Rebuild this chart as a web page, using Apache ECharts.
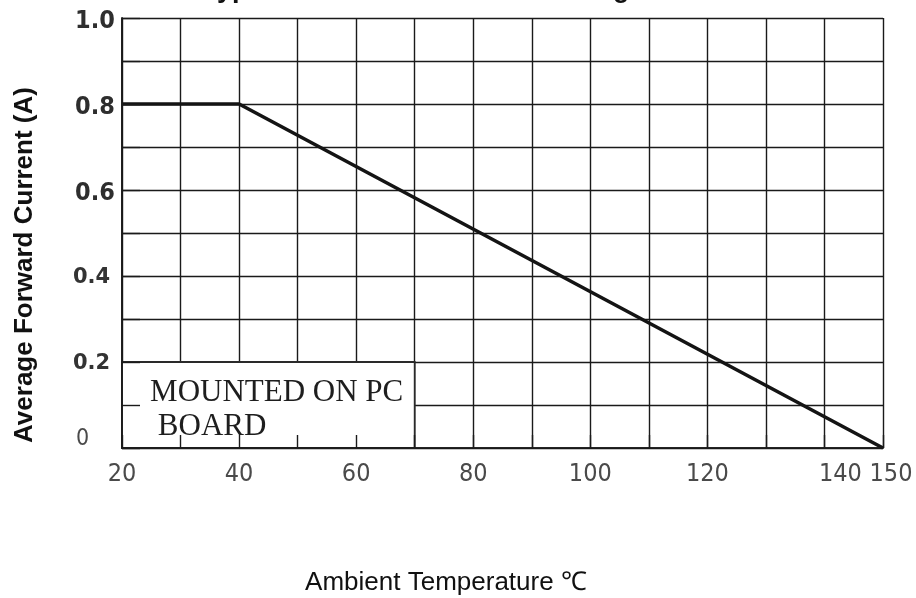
<!DOCTYPE html>
<html>
<head>
<meta charset="utf-8">
<script src="https://cdn.jsdelivr.net/npm/echarts@6/dist/echarts.min.js"></script>
<style>
html,body{margin:0;padding:0;background:#fff;}
#chart{width:916px;height:598px;}
</style>
</head>
<body>
<div id="chart"></div>
<script>
// ---- data ----
var temps = [20, 40, 150];          // Ambient temperature (°C)
var current = [0.8, 0.8, 0];        // Average forward current (A)
var xTickLabels = [20, 40, 60, 80, 100, 120, 140, 150];
var yTickLabels = ['0', '0.2', '0.4', '0.6', '0.8', '1.0'];
var noteX = [20, 70];               // note box extent (temperature)
var noteY = [0, 0.2];               // note box extent (current)
var noteText = 'MOUNTED ON PC\n BOARD';
var titleText = 'Typical Forward Current Derating Curve';
var xName = 'Ambient Temperature \u2103';
var yName = 'Average Forward Current (A)';

var chart = echarts.init(document.getElementById('chart'), null, {renderer: 'canvas'});

var lineData = temps.map(function (t, i) { return [t, current[i]]; });

function xFmt(v) {
  if (xTickLabels.indexOf(v) < 0) return '';
  if (v === 140) return '{s140|' + v + '}';
  if (v === 150) return '{s150|' + v + '}';
  return '{n|' + v + '}';
}
function yFmt(v) {
  var s = (Math.round(v * 10) / 10).toFixed(1);
  if (Math.round(v * 10) === 0) s = '0';
  if (yTickLabels.indexOf(s) < 0) return '';
  if (s === '0') return '{z|0}';
  if (s === '1.0' || s === '0.8' || s === '0.6') return '{b|' + s + '}';
  return '{m|' + s + '}';
}

var gridLine = {show: true, lineStyle: {color: '#1a1a1a', width: 1.4}};

var option = {
  backgroundColor: '#fff',
  animation: false,
  title: {
    text: titleText,
    left: 'center',
    top: -29,
    textStyle: {fontFamily: 'Liberation Sans', fontWeight: 'bold', fontSize: 27, color: '#111'}
  },
  grid: {left: 122, right: 33, top: 18, bottom: 150, containLabel: false},
  xAxis: [{
    type: 'value', min: 20, max: 150, interval: 10,
    axisLine: {show: true, lineStyle: {color: '#1a1a1a', width: 1.6}},
    axisTick: {show: false},
    splitLine: gridLine,
    axisLabel: {
      show: true, margin: 14, formatter: xFmt,
      rich: {
        n: {fontFamily: 'DejaVu Sans Condensed', fontSize: 25, color: '#4a4a4a'},
        s140: {fontFamily: 'DejaVu Sans Condensed', fontSize: 25, color: '#4a4a4a', padding: [0, 0, 0, 32]},
        s150: {fontFamily: 'DejaVu Sans Condensed', fontSize: 25, color: '#4a4a4a', padding: [0, 0, 0, 16]}
      }
    },
    z: 0
  }, {
    type: 'value', min: 20, max: 150, interval: 10, position: 'bottom', offset: 0,
    axisLine: {show: true, lineStyle: {color: '#1a1a1a', width: 1.6}},
    axisTick: {show: true, inside: true, length: 13, lineStyle: {color: '#1a1a1a', width: 1.4}},
    splitLine: {show: false},
    axisLabel: {show: false},
    z: 5
  }],
  yAxis: [{
    type: 'value', min: 0, max: 1, interval: 0.1,
    axisLine: {show: true, lineStyle: {color: '#1a1a1a', width: 1.6}},
    axisTick: {show: false},
    splitLine: gridLine,
    axisLabel: {
      show: true, margin: 49, align: 'left', formatter: yFmt,
      rich: {
        b: {fontFamily: 'DejaVu Sans Condensed', fontWeight: 'bold', fontSize: 25, color: '#2e2e2e', padding: [6, 0, 0, 2]},
        m: {fontFamily: 'DejaVu Sans', fontWeight: 'bold', fontSize: 21, color: '#333', padding: [3, 0, 0, 0]},
        z: {fontFamily: 'DejaVu Sans Condensed', fontSize: 23, color: '#4a4a4a', padding: [0, 0, 18, 3]}
      }
    },
    z: 0
  }, {
    type: 'value', min: 0, max: 1, interval: 0.1, position: 'left', offset: 0,
    axisLine: {show: true, lineStyle: {color: '#1a1a1a', width: 1.6}},
    axisTick: {show: true, inside: true, length: 18, lineStyle: {color: '#1a1a1a', width: 1.4}},
    splitLine: {show: false},
    axisLabel: {show: false},
    z: 5
  }],
  series: [{
    type: 'line',
    xAxisIndex: 0, yAxisIndex: 0,
    data: lineData,
    symbol: 'none',
    lineStyle: {color: '#141414', width: 3.6},
    z: 3,
    markArea: {
      silent: true,
      itemStyle: {color: '#ffffff', borderColor: '#2a2a2a', borderWidth: 1.8, opacity: 1},
      label: {
        show: true,
        position: 'insideLeft',
        distance: 0,
        offset: [29, 5],
        formatter: noteText,
        fontFamily: 'Liberation Serif',
        fontSize: 31,
        lineHeight: 34,
        color: '#1e1e1e',
        align: 'left'
      },
      data: [[{coord: [noteX[0], noteY[1]]}, {coord: [noteX[1], noteY[0]]}]]
    }
  }],
  graphic: [{
    type: 'text',
    x: 25, y: 265, rotation: Math.PI / 2,
    style: {text: yName, font: 'bold 26px "Liberation Sans"', fill: '#111', textAlign: 'center', textVerticalAlign: 'middle'}
  }, {
    type: 'text',
    x: 446, y: 583,
    style: {text: xName, font: '26px "Liberation Sans"', fill: '#111', textAlign: 'center', textVerticalAlign: 'middle'}
  }]
};
chart.setOption(option);
</script>
</body>
</html>
